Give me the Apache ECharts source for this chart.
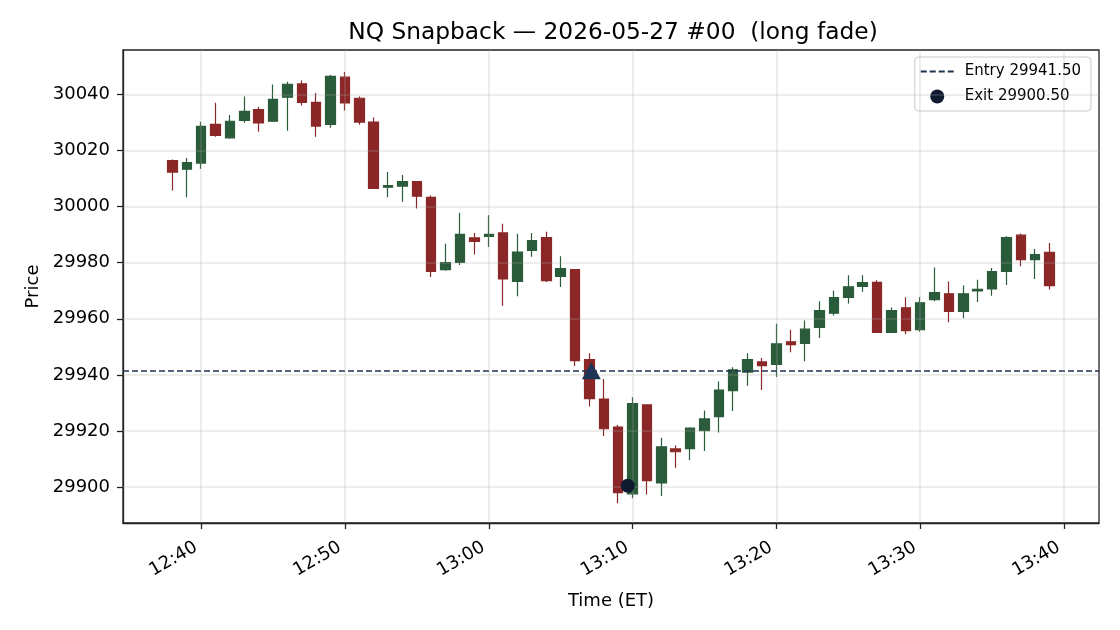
<!DOCTYPE html>
<html>
<head>
<meta charset="utf-8">
<script src="https://cdn.jsdelivr.net/npm/echarts@6/dist/echarts.min.js"></script>
<style>html,body{margin:0;padding:0;background:#fff}#c{width:1120px;height:630px}</style>
</head>
<body>
<div id="c"></div>
<script>
// ---- data ----
var times = ["12:38","12:39","12:40","12:41","12:42","12:43","12:44","12:45","12:46","12:47","12:48","12:49","12:50","12:51","12:52","12:53","12:54","12:55","12:56","12:57","12:58","12:59","13:00","13:01","13:02","13:03","13:04","13:05","13:06","13:07","13:08","13:09","13:10","13:11","13:12","13:13","13:14","13:15","13:16","13:17","13:18","13:19","13:20","13:21","13:22","13:23","13:24","13:25","13:26","13:27","13:28","13:29","13:30","13:31","13:32","13:33","13:34","13:35","13:36","13:37","13:38","13:39"];
var opens  = [30016.4,30013.3,30015.5,30029.3,30024.5,30030.7,30034.6,30030.4,30039.0,30043.7,30037.1,30029.3,30046.1,30038.6,30030.1,30006.9,30007.3,30008.9,30003.3,29977.5,29980.1,29988.8,29989.4,29990.6,29973.3,29984.4,29988.9,29975.1,29977.5,29945.4,29931.4,29921.4,29897.6,29929.3,29901.5,29913.6,29913.7,29920.1,29925.1,29934.4,29941.0,29944.6,29943.7,29951.8,29951.2,29956.9,29962.0,29967.6,29971.5,29973.0,29955.1,29963.9,29956.1,29966.8,29968.9,29962.6,29969.9,29970.6,29976.9,29989.8,29981.1,29983.7];
var highs  = [30016.8,30017.3,30030.2,30037.0,30032.6,30039.2,30035.6,30043.5,30044.5,30044.9,30040.5,30046.9,30048.0,30039.2,30031.7,30012.3,30011.2,30009.0,30003.9,29986.7,29997.8,29990.6,29996.9,29993.9,29990.3,29990.6,29991.0,29982.3,29977.6,29947.7,29938.5,29922.1,29932.0,29929.5,29917.6,29914.8,29921.3,29927.3,29937.6,29942.7,29947.7,29946.0,29958.2,29956.1,29959.4,29966.2,29970.1,29975.5,29975.5,29973.7,29964.0,29967.7,29967.7,29978.3,29973.3,29971.9,29973.9,29978.1,29989.4,29990.4,29984.9,29987.0];
var lows   = [30005.7,30003.3,30013.5,30024.9,30024.2,30029.9,30026.7,30030.2,30027.0,30036.0,30024.9,30028.1,30034.2,30029.2,30006.3,30003.3,30001.7,29999.3,29974.9,29977.1,29979.2,29982.9,29985.6,29964.6,29968.0,29982.1,29973.1,29971.3,29943.2,29928.7,29918.2,29894.2,29896.0,29897.4,29896.8,29906.9,29909.6,29912.9,29919.5,29927.1,29936.1,29934.6,29939.2,29948.1,29944.9,29953.1,29961.2,29965.4,29969.6,29955.0,29954.9,29954.5,29955.4,29966.2,29958.8,29960.2,29966.0,29968.2,29972.0,29978.7,29974.2,29970.4];
var closes = [30012.3,30015.7,30028.6,30025.4,30030.4,30033.9,30029.8,30038.2,30043.6,30037.1,30028.7,30046.4,30036.9,30030.1,30006.5,30007.5,30008.9,30003.7,29976.9,29980.0,29990.1,29987.6,29990.1,29974.2,29983.8,29987.9,29973.6,29977.9,29945.1,29931.5,29920.8,29898.0,29929.8,29902.3,29914.3,29912.6,29921.0,29924.3,29934.6,29941.8,29945.4,29943.3,29951.1,29950.8,29956.3,29962.9,29967.5,29971.4,29972.9,29955.1,29962.9,29955.8,29965.7,29969.3,29962.6,29968.9,29970.5,29976.8,29988.9,29981.1,29982.9,29971.8];
var entryPrice = 29941.50;
var exitPrice = 29900.50;
var entryTime = "13:07:08";
var exitTime = "13:09:40";
var xTickLabels = ["12:40","12:50","13:00","13:10","13:20","13:30","13:40"];
var yTickValues = [29900,29920,29940,29960,29980,30000,30020,30040];

// ---- helpers ----
function toMin(s){var p=s.split(':').map(Number);return p[0]*60+p[1]+(p[2]||0)/60;}
function fmt(v){var h=Math.floor(v/60),m=Math.round(v-h*60);return h+':'+(m<10?'0':'')+m;}
var xTicks = xTickLabels.map(toMin);
var candleData = times.map(function(t,i){return [toMin(t),opens[i],closes[i],lows[i],highs[i]];});

var FONT = 'DejaVu Sans';
var NAVY = '#1f3552';
var gridStyle = {color:'rgba(170,170,170,0.28)', width:1.5, type:'solid'};
var dashIcon = 'path://M0,0h6v2h-6z M9,0h6v2h-6z M18,0h6v2h-6z M27,0h6v2h-6z';

var chart = echarts.init(document.getElementById('c'), null, {renderer:'canvas'});
chart.setOption({
  animation:false,
  backgroundColor:'#fff',
  textStyle:{fontFamily:FONT},
  title:{text:'NQ Snapback \u2014 2026-05-27 #00  (long fade)', left:608, top:16, textAlign:'center',
    textStyle:{fontFamily:FONT, fontSize:23.3, fontWeight:'normal', color:'#000'}},
  legend:{
    data:[{name:'Entry 29941.50', icon:dashIcon, itemStyle:{color:NAVY, opacity:1}},
          {name:'Exit 29900.50', icon:'circle', itemStyle:{color:'#0f1a30', opacity:1}}],
    orient:'vertical', right:29, top:57, itemWidth:33, itemHeight:14, itemGap:10,
    padding:[7,10,7,6], borderColor:'#cccccc', borderWidth:1, borderRadius:4,
    backgroundColor:'rgba(255,255,255,0.85)',
    textStyle:{fontFamily:FONT, fontSize:15, color:'#000', padding:[0,0,0,6]}
  },
  grid:{left:123, right:21, top:50, bottom:107, show:true, borderColor:'#222', borderWidth:1.3, backgroundColor:'transparent'},
  xAxis:{type:'value', min:754.565, max:822.435,
    name:'Time (ET)', nameLocation:'middle', nameGap:69,
    nameTextStyle:{fontFamily:FONT, fontSize:18, color:'#000'},
    axisLine:{show:true, onZero:false, lineStyle:{color:'#222', width:1.3}},
    axisTick:{show:true, length:6, lineStyle:{color:'#222', width:1.3}, customValues:xTicks},
    axisLabel:{customValues:xTicks, formatter:function(v){return fmt(v);}, rotate:30, margin:20,
      padding:[0,6,0,0], fontFamily:FONT, fontSize:18, color:'#000'},
    splitLine:{show:false}},
  yAxis:{type:'value', min:29887.2, max:30055.8, scale:true,
    name:'Price', nameLocation:'middle', nameGap:80, nameRotate:90,
    nameTextStyle:{fontFamily:FONT, fontSize:18, color:'#000'},
    axisLine:{show:true, lineStyle:{color:'#222', width:1.3}},
    axisTick:{show:true, length:6, lineStyle:{color:'#222', width:1.3}, customValues:yTickValues},
    axisLabel:{customValues:yTickValues, formatter:function(v){return String(v);}, margin:13, fontFamily:FONT, fontSize:18, color:'#000'},
    splitLine:{show:false}},
  series:[
    {type:'candlestick', name:'candles', data:candleData, encode:{x:0, y:[1,2,3,4]},
      barWidth:10, z:2,
      itemStyle:{color:'#2a5b3a', color0:'#8b2727', borderColor:'#2a5b3a', borderColor0:'#8b2727', borderWidth:1.2}},
    {type:'line', name:'Entry 29941.50', data:[], symbol:'none', showSymbol:false, z:4,
      lineStyle:{color:NAVY, width:1.6, type:[6,3]}, itemStyle:{color:NAVY},
      markLine:{silent:true, symbol:'none', label:{show:false},
        lineStyle:{color:NAVY, width:1.6, type:[6,3]},
        data:[{yAxis:entryPrice}]}},
    {type:'scatter', name:'gridlines', data:[], z:3, silent:true,
      markLine:{silent:true, symbol:'none', label:{show:false}, lineStyle:gridStyle,
        data:xTicks.map(function(v){return {xAxis:v};}).concat(yTickValues.map(function(v){return {yAxis:v};}))}},
    {type:'scatter', name:'entry', data:[[toMin(entryTime), entryPrice]], symbol:'triangle', symbolSize:[19,17], z:5,
      itemStyle:{color:'#1d3454', opacity:1}},
    {type:'scatter', name:'Exit 29900.50', data:[[toMin(exitTime), exitPrice]], symbol:'circle', symbolSize:14, z:5,
      itemStyle:{color:'#0f1a30', opacity:1}}
  ]
});
</script>
</body>
</html>
